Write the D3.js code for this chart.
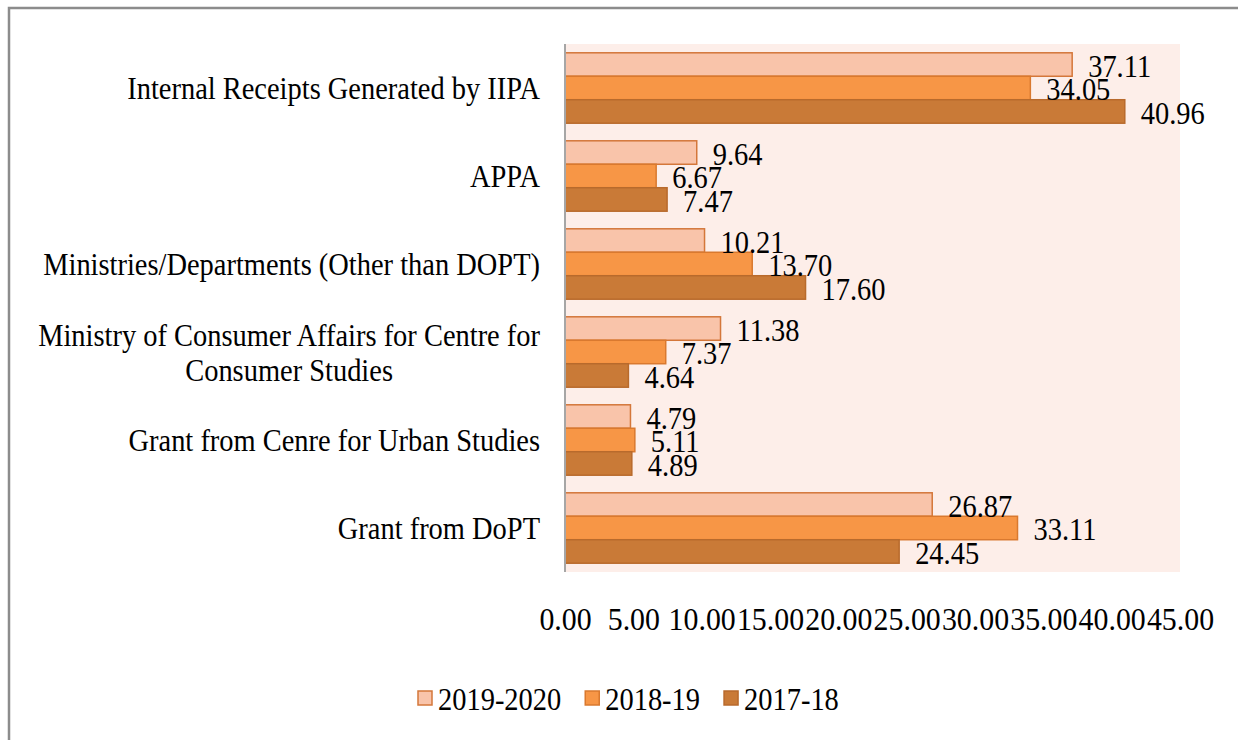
<!DOCTYPE html>
<html>
<head>
<meta charset="utf-8">
<script src="https://cdn.jsdelivr.net/npm/d3@7"></script>
<style>
    body { margin: 0; background: #fff; }
    svg { display: block; }
    text { font-family: "Liberation Serif", "Times New Roman", Tinos, "DejaVu Serif", serif; fill: #000; }
</style>
</head>
<body>
<svg id="chart" width="1238" height="740"></svg>
<script>
/**
 * Data.
 */
const categories = [
    'Internal Receipts Generated by IIPA',
    'APPA',
    'Ministries/Departments (Other than DOPT)',
    'Ministry of Consumer Affairs for Centre for|Consumer Studies',
    'Grant from Cenre for Urban Studies',
    'Grant from DoPT'
];
const seriesNames = ['2019-2020', '2018-19', '2017-18'];
const values2019 = [37.11, 9.64, 10.21, 11.38, 4.79, 26.87];
const values2018 = [34.05, 6.67, 13.70, 7.37, 5.11, 33.11];
const values2017 = [40.96, 7.47, 17.60, 4.64, 4.89, 24.45];
const xTicks = [0, 5, 10, 15, 20, 25, 30, 35, 40, 45];

/**
 * Visual configs.
 */
const plot = { left: 565, top: 44, right: 1180, bottom: 572 };
const fontSize = 32; // tall, narrow text as in the original
const colors = ['#f9c4aa', '#f79646', '#c97a37'];
const strokes = ['#d4773a', '#d9792f', '#b86a2c'];

const svg = d3.select('#chart');

// Horizontal squeeze: fit the longest label to its width in the original (~497px)
const probe = svg.append('text').style('font-size', fontSize + 'px').text('Ministries/Departments (Other than DOPT)');
const squeeze = 497 / probe.node().getComputedTextLength();
probe.remove();

/**
 * D3.
 */
const xScale = d3.scaleLinear().domain([0, 45]).range([plot.left, plot.right]);
const yScale = d3.scaleBand().domain(categories).range([plot.top, plot.bottom]).paddingInner(0.2).paddingOuter(0.1);
const subScale = d3.scaleBand().domain(seriesNames).range([0, yScale.bandwidth()]);
const color = d3.scaleOrdinal().domain(seriesNames).range(colors);
const stroke = d3.scaleOrdinal().domain(seriesNames).range(strokes);

const rows = categories.map((c, i) => ({
    category: c,
    values: [
        { name: seriesNames[0], value: values2019[i] },
        { name: seriesNames[1], value: values2018[i] },
        { name: seriesNames[2], value: values2017[i] }
    ]
}));

// Chart border
svg.append('rect')
    .attr('x', 9).attr('y', 8)
    .attr('width', 1260).attr('height', 760)
    .attr('fill', '#fff')
    .attr('stroke', '#8c8c8c')
    .attr('stroke-width', 2.5);

// Plot background
svg.append('rect')
    .attr('x', plot.left).attr('y', plot.top)
    .attr('width', plot.right - plot.left).attr('height', plot.bottom - plot.top)
    .attr('fill', '#fdeee9');

/**
 * Places a squeezed text at the given position.
 */
function label(parent, x, y, str, anchor) {
    const g = parent.append('g').attr('transform', 'translate(' + x + ',' + y + ')');
    const t = g.append('text')
        .attr('transform', 'scale(' + squeeze + ',1)')
        .attr('dy', '0.35em')
        .attr('text-anchor', anchor || 'start')
        .style('font-size', fontSize + 'px')
        .text(str);
    return t;
}

// Bars
const groups = svg.append('g').attr('class', 'items')
    .selectAll('g.group').data(rows).join('g')
    .attr('class', 'group')
    .attr('transform', d => 'translate(0,' + yScale(d.category) + ')');

groups.selectAll('rect').data(d => d.values).join('rect')
    .attr('x', xScale(0))
    .attr('y', d => subScale(d.name))
    .attr('width', d => xScale(d.value) - xScale(0))
    .attr('height', subScale.bandwidth())
    .attr('fill', d => color(d.name))
    .attr('stroke', d => stroke(d.name))
    .attr('stroke-width', 1.5);

// Value labels
groups.each(function(d) {
    const g = d3.select(this);
    d.values.forEach(v => {
        label(g, xScale(v.value) + 16, subScale(v.name) + subScale.bandwidth() / 2 + 1, v.value.toFixed(2));
    });
});

// Vertical axis line
svg.append('line')
    .attr('x1', plot.left).attr('x2', plot.left)
    .attr('y1', plot.top).attr('y2', plot.bottom)
    .attr('stroke', '#a6a6a6')
    .attr('stroke-width', 2);

// Category labels
const catLayer = svg.append('g').attr('class', 'categories');
categories.forEach(c => {
    const lines = c.split('|');
    const cy = yScale(c) + yScale.bandwidth() / 2;
    if (lines.length === 1) {
        label(catLayer, 540, cy, c, 'end');
    } else {
        const first = label(catLayer, 540, cy - 17, lines[0], 'end');
        const w = first.node().getComputedTextLength() * squeeze;
        label(catLayer, 540 - w / 2, cy + 18, lines[1], 'middle');
    }
});

// X axis (labels only, a little wider so neighbours touch as in the original)
const xAxis = d3.axisBottom(xScale).tickValues(xTicks).tickSize(0).tickPadding(35).tickFormat(d3.format('.2f'));
svg.append('g')
    .attr('transform', 'translate(0,' + plot.bottom + ')')
    .call(xAxis)
    .call(g => g.select('.domain').remove())
    .call(g => g.selectAll('text')
        .attr('transform', 'scale(' + (squeeze * 1.05) + ',1)')
        .attr('font-family', null)
        .style('font-size', fontSize + 'px')
        .attr('fill', '#000'));

// Legend
const legend = svg.append('g').attr('class', 'legends');
let lx = 418;
const ly = 698;
seriesNames.forEach(s => {
    legend.append('rect')
        .attr('x', lx).attr('y', ly - 7)
        .attr('width', 14).attr('height', 14)
        .attr('fill', color(s))
        .attr('stroke', stroke(s))
        .attr('stroke-width', 1.5);
    const t = label(legend, lx + 20, ly + 1, s);
    lx += 20 + t.node().getComputedTextLength() * squeeze + 24;
});
</script>
</body>
</html>
